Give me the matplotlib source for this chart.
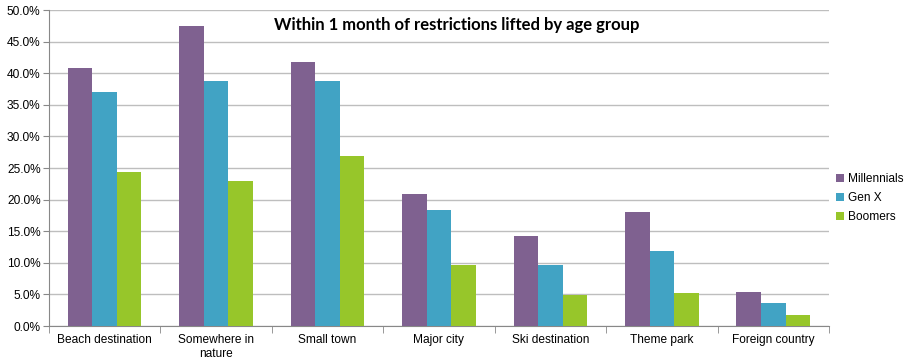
import numpy as np
import matplotlib.pyplot as plt
from matplotlib.ticker import PercentFormatter, FixedLocator

categories = ["Beach destination", "Somewhere in\nnature", "Small town", "Major city",
              "Ski destination", "Theme park", "Foreign country"]
series = ["Millennials", "Gen X", "Boomers"]
millennials = [40.8, 47.4, 41.8, 20.9, 14.2, 18.0, 5.4]
gen_x = [37.0, 38.7, 38.7, 18.3, 9.6, 11.9, 3.6]
boomers = [24.4, 22.9, 26.9, 9.7, 4.9, 5.3, 1.7]
colors = ["#7F6190", "#41A3C4", "#97C62A"]

plt.rcParams['font.family'] = ['Liberation Sans', 'DejaVu Sans']

fig = plt.figure(figsize=(9.06, 3.62), dpi=100)
ax = fig.add_axes([0.054, 0.0994, 0.861, 0.8729])

x = np.arange(len(categories))
w = 0.22
for i, (vals, name) in enumerate(zip([millennials, gen_x, boomers], series)):
    ax.bar(x + (i - 1) * w, vals, width=w, color=colors[i], label=name, zorder=3)

ax.set_xlim(-0.5, len(categories) - 0.5)
ax.set_ylim(0, 50)
ax.set_yticks(np.arange(0, 50.1, 5))
ax.yaxis.set_major_formatter(PercentFormatter(decimals=1))
ax.yaxis.grid(True, color="#BEBEBE", linewidth=1, zorder=0)

ax.set_xticks(x)
ax.set_xticklabels(categories, fontsize=8.6)
ax.tick_params(axis='x', length=0, pad=6)
ax.xaxis.set_minor_locator(FixedLocator(np.arange(-0.5, len(categories), 1)))
ax.tick_params(axis='x', which='minor', length=5, color="#888888")
ax.tick_params(axis='y', length=4, color="#888888", labelsize=8.6, pad=2)

for s in ['top', 'right']:
    ax.spines[s].set_visible(False)
for s in ['left', 'bottom']:
    ax.spines[s].set_color("#888888")

ax.set_title("Within 1 month of restrictions lifted by age group",
             fontsize=12, fontweight='bold', family=['Lato', 'DejaVu Sans'],
             x=0.523, y=0.912)

ax.legend(loc='center left', bbox_to_anchor=(0.995, 0.405), frameon=False,
          fontsize=8.6, handlelength=0.7, handleheight=0.7, handletextpad=0.3,
          labelspacing=0.6)

fig.savefig("out.png", dpi=100)
